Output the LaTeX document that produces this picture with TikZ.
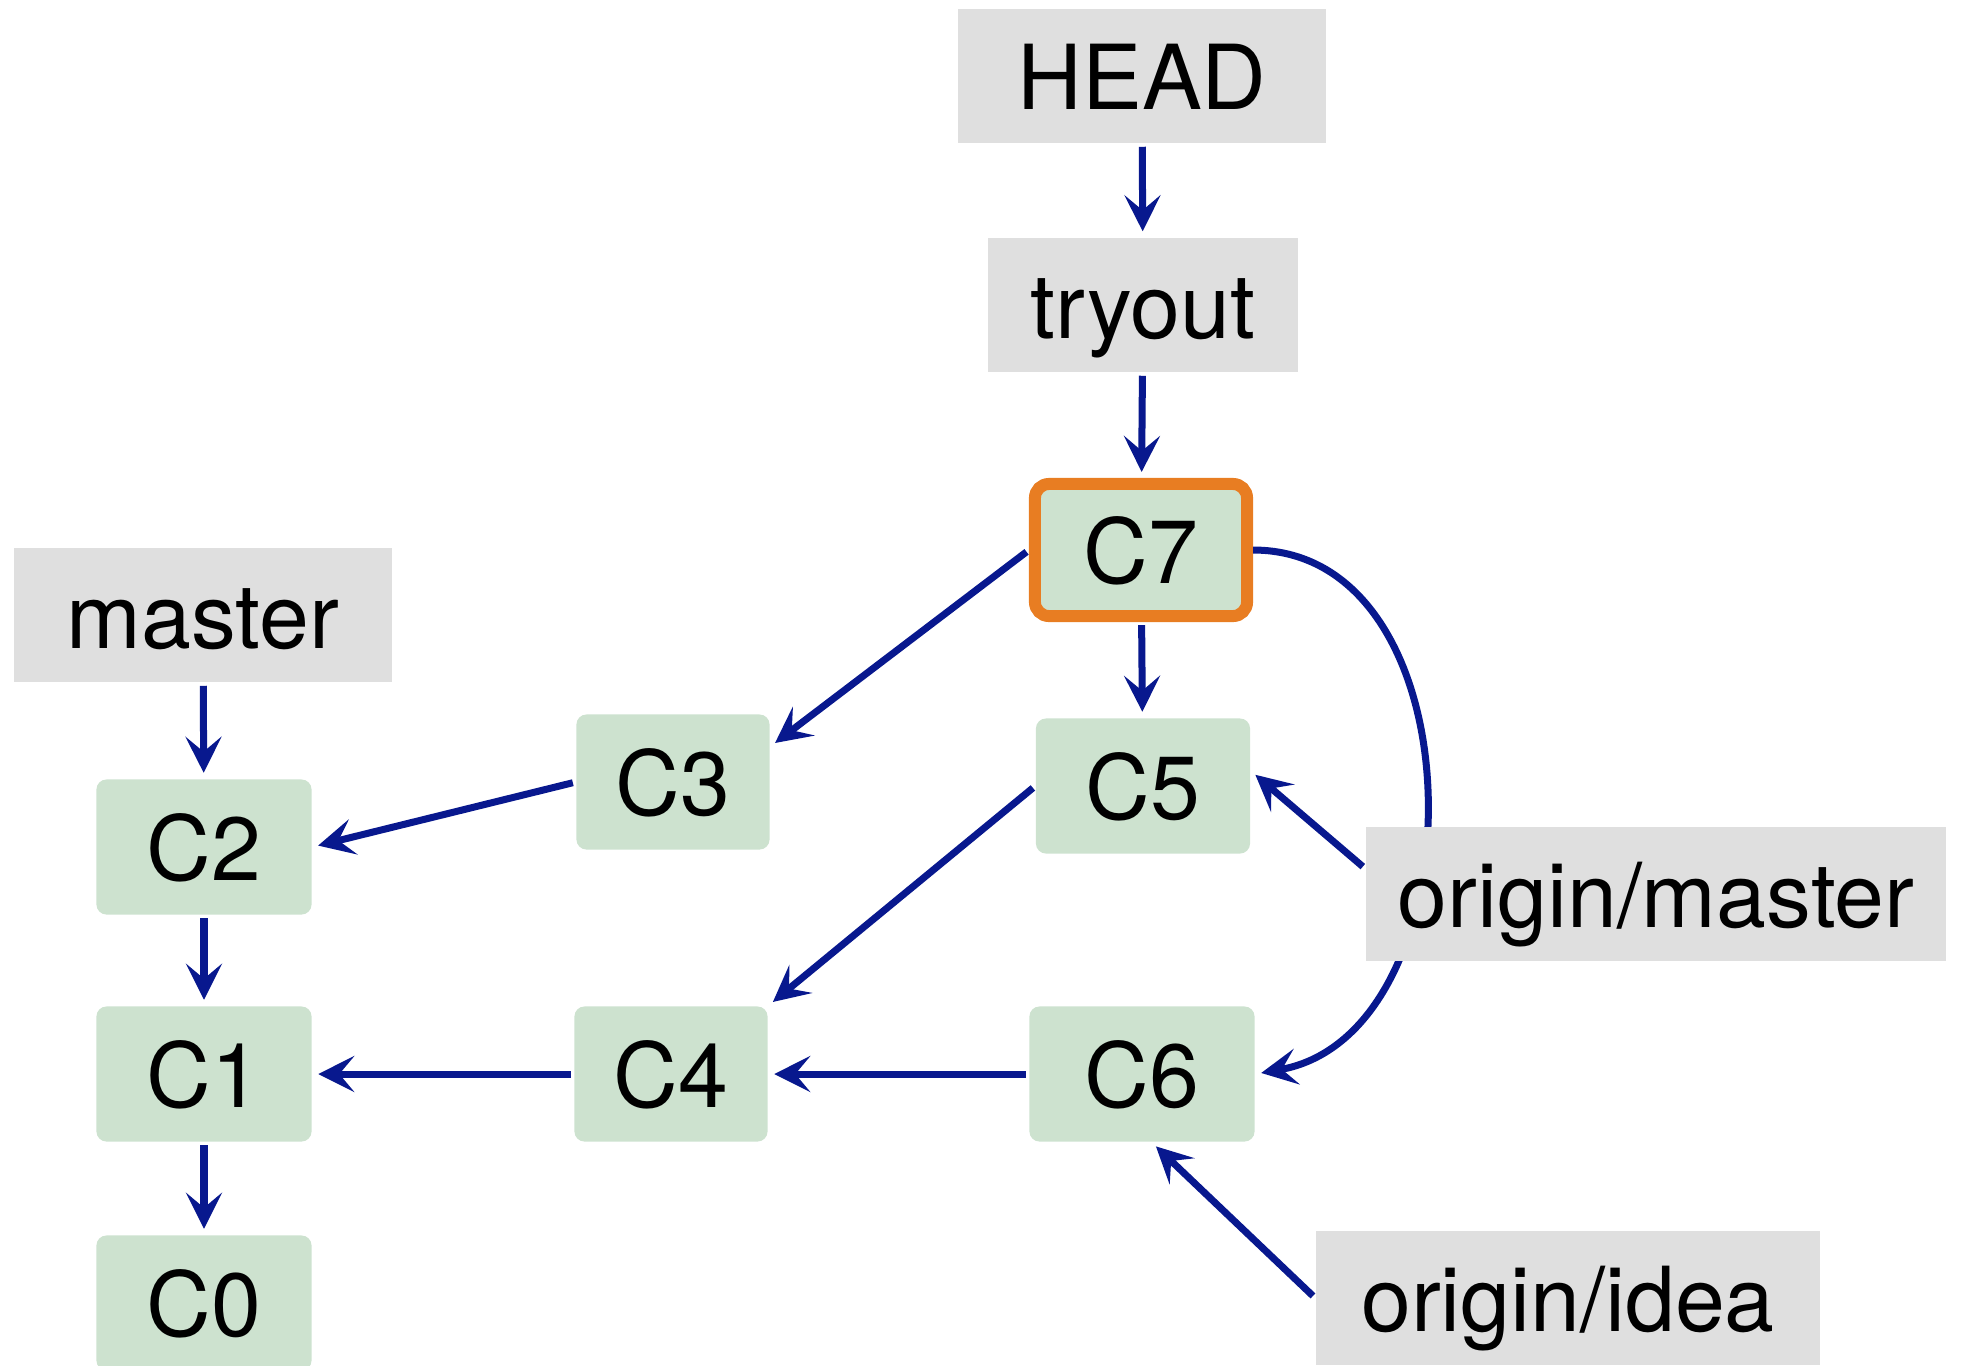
\documentclass[tikz,border=0pt]{standalone}
\usepackage{fontspec}
\setmainfont{TeX Gyre Heros}
\usetikzlibrary{arrows.meta}
\definecolor{refgray}{RGB}{223,223,223}
\definecolor{commitgreen}{RGB}{205,226,207}
\definecolor{headorange}{RGB}{232,125,34}
\definecolor{linkblue}{RGB}{8,24,142}

\begin{document}
\begin{tikzpicture}[x=0.01cm,y=-0.01cm,
    >={Stealth[length=0.36cm,width=0.36cm,inset=0.15cm]},
    font=\fontsize{25.5}{30}\selectfont,
    ref/.style={fill=refgray,inner sep=0pt,minimum height=1.34cm,text height=0.66cm,text depth=0pt},
    commit/.style={fill=commitgreen,rounded corners=0.1cm,inner sep=0pt,minimum height=1.35cm,text height=0.66cm,text depth=0pt},
    link/.style={->,draw=linkblue,line width=0.07cm,shorten <=0.03cm,shorten >=0.06cm}]
    \useasboundingbox (0,0) rectangle (1962,1365);
    % branch labels
    \node[ref,minimum width=3.68cm] (HEAD) at (1142,76) {HEAD};
    \node[ref,minimum width=3.1cm] (tryout) at (1143,305) {tryout};
    \node[ref,minimum width=3.77cm] (master) at (203,615) {master};
    \node[ref,minimum width=5.04cm] (oidea) at (1568,1298) {origin/idea};
    % commits
    \node[commit,draw=headorange,line width=0.12cm,rounded corners=0.14cm,minimum width=2.12cm,minimum height=1.32cm] (C7) at (1141,550) {C7};
    \node[commit,minimum width=1.93cm] (C3) at (673,782) {C3};
    \node[commit,minimum width=2.14cm] (C5) at (1143,786) {C5};
    \node[commit,minimum width=2.15cm] (C2) at (204,847) {C2};
    \node[commit,minimum width=2.15cm] (C1) at (204,1074) {C1};
    \node[commit,minimum width=1.93cm] (C4) at (671,1074) {C4};
    \node[commit,minimum width=2.25cm] (C6) at (1142,1074) {C6};
    \node[commit,minimum width=2.15cm] (C0) at (204,1303) {C0};
    % merge parent behind origin/master
    \draw[link,shorten <=0pt] (C7.east) to[out=0,in=10,looseness=1.12] (C6.east);
    \node[ref,minimum width=5.8cm] (omaster) at (1656,894) {origin/master};
    % pointers
    \draw[link] (HEAD) -- (tryout);
    \draw[link] (tryout) -- (C7);
    \draw[link] (master) -- (C2);
    \draw[link] (C7.west) -- (C3.20);
    \draw[link] (C7) -- (C5);
    \draw[link] (C3.west) -- (C2.east);
    \draw[link] (C5.west) -- (C4.north east);
    \draw[link] (C2) -- (C1);
    \draw[link] (C1) -- (C0);
    \draw[link] (C4.west) -- (C1.east);
    \draw[link] (C6.west) -- (C4.east);
    \draw[link] (omaster.175) -- (C5.8);
    \draw[link] (oidea.west) -- (C6.-82);
\end{tikzpicture}
\end{document}
